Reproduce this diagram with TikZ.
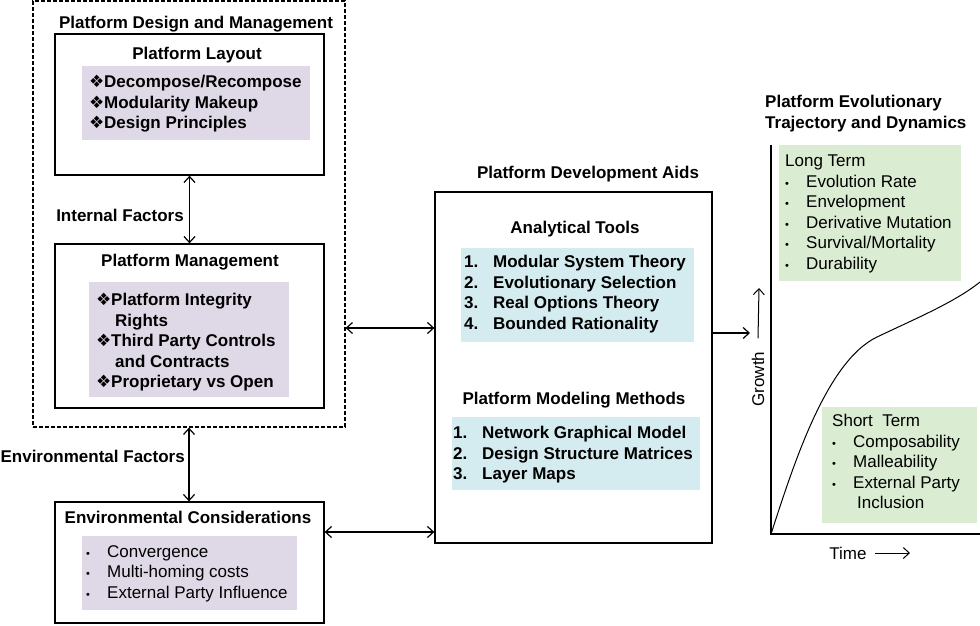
\documentclass[tikz,border=0pt]{standalone}
\usepackage{fontspec}
\setmainfont{Liberation Sans}
\newfontfamily\symfont{DejaVu Sans}
\usepackage{xcolor}
\usetikzlibrary{arrows.meta,positioning}

\definecolor{lilac}{RGB}{223,216,231}
\definecolor{paleblue}{RGB}{212,235,240}
\definecolor{palegreen}{RGB}{218,236,209}

\newcommand{\dmd}{\makebox[15pt][l]{\symfont\fontsize{17}{17}\selectfont\char"2756}}
\newcommand{\bul}[1][21pt]{\makebox[#1][l]{\fontsize{11}{11}\selectfont\textbullet}}
\newcommand{\num}[1]{\makebox[29pt][l]{#1}}

\begin{document}
\begin{tikzpicture}[x=1pt,y=-1pt,
  font=\fontsize{17}{20.5}\selectfont,
  >={Straight Barb[length=6pt,width=11pt]},
  frame/.style={draw,line width=1.3pt,inner sep=0pt},
  shade/.style={fill=#1,inner sep=0pt},
  head/.style={font=\fontsize{17}{20.5}\selectfont\bfseries,inner sep=0pt},
  items/.style={align=left,inner sep=0pt,anchor=north west,font=\fontsize{17}{20.5}\selectfont\bfseries},
  plainitems/.style={align=left,inner sep=0pt,anchor=north west},
  link/.style={<->,line width=1.2pt}]
  \useasboundingbox (0,0) rectangle (980,625);

  % design and management
  \node[frame,dashed,dash pattern=on 4pt off 2pt,line width=1.2pt,minimum width=312,minimum height=426] (pdm) at (189,214) {};
  \node[head] (pdmtitle) at (196,24) {Platform Design and Management};

  \node[frame,minimum width=269,minimum height=141] (layout) at (189.5,104.5) {};
  \node[head] (layouttitle) at (197,55) {Platform Layout};
  \node[shade=lilac,minimum width=228,minimum height=74] (layoutbg) at (196,103) {};
  \node[items] (layoutlist) at (89,75) {\dmd Decompose/Recompose\\ \dmd Modularity Makeup\\ \dmd Design Principles};

  \node[frame,minimum width=269,minimum height=164] (mgmt) at (189.5,326) {};
  \node[head] (mgmttitle) at (190,262) {Platform Management};
  \node[shade=lilac,minimum width=200,minimum height=115] (mgmtbg) at (189,339.5) {};
  \node[items] (mgmtlist) at (96,293) {\dmd Platform Integrity\\ \hspace*{19pt}Rights\\ \dmd Third Party Controls\\ \hspace*{19pt}and Contracts\\ \dmd Proprietary vs Open};

  \draw[link] (layout.south) -- (mgmt.north);
  \node[head,anchor=east] (internal) at (184,215) {Internal Factors};

  % environment
  \node[frame,minimum width=269,minimum height=121] (env) at (189.5,562.5) {};
  \node[head] (envtitle) at (188,517) {Environmental Considerations};
  \node[shade=lilac,minimum width=215,minimum height=74] (envbg) at (189.5,573) {};
  \node[plainitems] (envlist) at (86,545) {\bul Convergence\\ \bul Multi-homing costs\\ \bul External Party Influence};

  \draw[link] (pdm.south) -- (pdm.south |- env.north);
  \node[head,anchor=east] (environmental) at (185,456) {Environmental Factors};

  % development aids
  \node[frame,minimum width=277,minimum height=351] (aids) at (573.5,367.5) {};
  \node[head] (aidstitle) at (588,174) {Platform Development Aids};
  \node[head] (toolstitle) at (575,229) {Analytical Tools};
  \node[shade=paleblue,minimum width=233,minimum height=94] (toolsbg) at (577.5,295) {};
  \node[items] (toolslist) at (464,255) {\num{1.}Modular System Theory\\ \num{2.}Evolutionary Selection\\ \num{3.}Real Options Theory\\ \num{4.}Bounded Rationality};
  \node[head] (modeltitle) at (574,400) {Platform Modeling Methods};
  \node[shade=paleblue,minimum width=248,minimum height=73] (modelbg) at (576,453.5) {};
  \node[items] (modellist) at (453,426) {\num{1.}Network Graphical Model\\ \num{2.}Design Structure Matrices\\ \num{3.}Layer Maps};

  \draw[link] ([yshift=-114pt]pdm.east) -- ([yshift=-114pt]pdm.east -| aids.west);
  \draw[link] ([yshift=30.5pt]env.east) -- ([yshift=30.5pt]env.east -| aids.west);

  % trajectory
  \node[head,align=left,anchor=north west] (trendtitle) at (765,95) {Platform Evolutionary\\Trajectory and Dynamics};
  \coordinate (trendtip) at (750,333);
  \draw[->,line width=1.2pt] ([yshift=34.5pt]aids.east) -- (trendtip);

  \coordinate (origin) at (771,534);
  \draw[line width=1.3pt] (771,145) -- (origin) -- (980,534);
  \draw[line width=1pt] (origin) .. controls (792,470) and (825,362) .. (877,337) .. controls (917,318) and (955,302) .. (980,282);

  \node[shade=palegreen,minimum width=182,minimum height=136] (longbg) at (870,213) {};
  \node[plainitems] (longlist) at (785,155) {Long Term\\ \bul Evolution Rate\\ \bul Envelopment\\ \bul Derivative Mutation\\ \bul Survival/Mortality\\ \bul Durability};
  \node[shade=palegreen,minimum width=155,minimum height=116] (shortbg) at (899.5,465) {};
  \node[plainitems] (shortlist) at (832,414) {Short\ \ Term\\ \bul Composability\\ \bul Malleability\\ \bul External Party\\ \hspace*{25pt}Inclusion};

  \node[rotate=90,inner sep=0pt] (growth) at (758,379) {Growth};
  \coordinate (growthtip) at (759,288);
  \draw[->,line width=1pt] ([yshift=13pt]growth.east) -- (growthtip);
  \node[inner sep=0pt] (time) at (848,553) {Time};
  \coordinate (timetip) at (910,553);
  \draw[->,line width=1pt] ([xshift=8pt]time.east) -- (timetip);
\end{tikzpicture}
\end{document}
